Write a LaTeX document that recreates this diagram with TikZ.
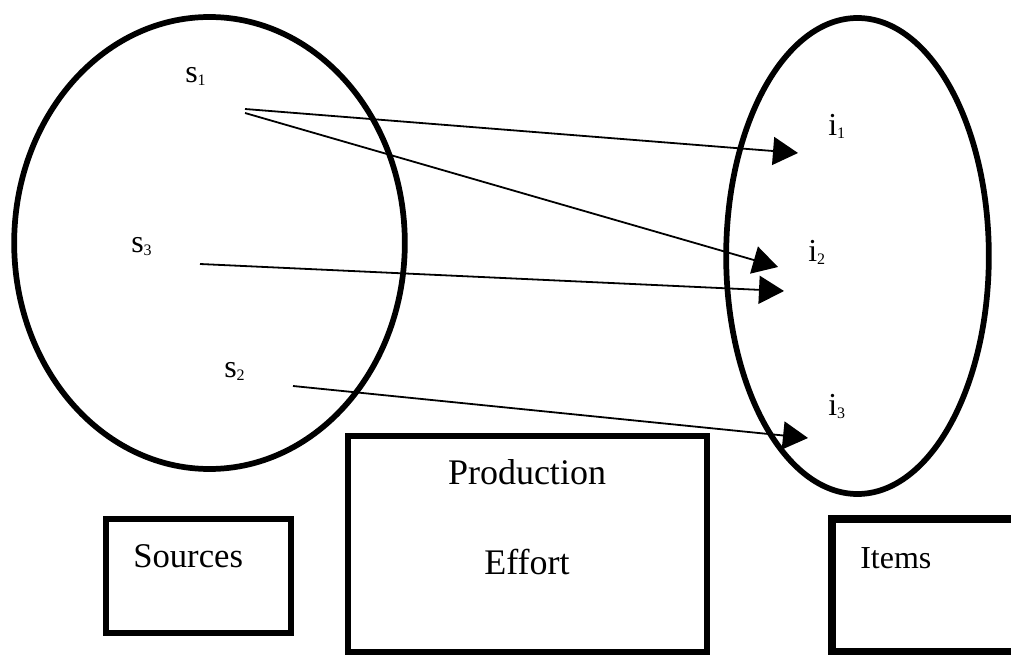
\documentclass[tikz,border=0pt]{standalone}
\usepackage{fontspec}
\setmainfont{Liberation Serif}
\usetikzlibrary{arrows.meta,shapes.geometric}
\newcommand{\setlbl}[2]{#1\raisebox{-2.2pt}{\fontsize{12}{12}\selectfont #2}}

\begin{document}
\begin{tikzpicture}[x=0.75pt,y=0.75pt,yscale=-1,xscale=1,
  setoval/.style={draw, ellipse, line width=4.3pt, inner sep=0pt, outer sep=0pt},
  flow/.style={line width=1.35pt, -{Triangle[length=18.75pt,width=21pt]}},
  lbl/.style={anchor=base west, inner sep=0pt, font=\fontsize{24}{28}\selectfont},
  boxtext/.style={anchor=base, inner sep=0pt, font=\fontsize{27}{32}\selectfont},
  frame/.style={draw, inner sep=0pt, outer sep=0pt}]
\useasboundingbox (0,0) rectangle (1011,655);

%Ellipses
\node[setoval, minimum width=293pt, minimum height=339pt] (srcset) at (209.5,243) {};
\node[setoval, minimum width=197pt, minimum height=357pt] (itemset) at (857.5,256) {};

% Text Node
\node[lbl] (s1) at (185,83) {\setlbl{s}{1}};
\node[lbl] (s3) at (131,253) {\setlbl{s}{3}};
\node[lbl] (s2) at (224,378) {\setlbl{s}{2}};
\node[lbl] (i1) at (828,136) {\setlbl{i}{1}};
\node[lbl] (i2) at (808,262) {\setlbl{i}{2}};
\node[lbl] (i3) at (828,416) {\setlbl{i}{3}};

%Straight Lines
\coordinate (s1a) at (245,109);
\coordinate (s1b) at (245,113);
\coordinate (s3a) at (200,264);
\coordinate (s2a) at (293,386);
\coordinate (i1a) at (798,153);
\coordinate (i2a) at (778,267);
\coordinate (i2b) at (784,291);
\coordinate (i3a) at (808,438);
\draw[flow] (s1a) -- (i1a);
\draw[flow] (s1b) -- (i2a);
\draw[flow] (s3a) -- (i2b);
\draw[flow] (s2a) -- (i3a);

%Shape: Rectangle
\node[frame, line width=4.5pt, minimum width=138.75pt, minimum height=85.5pt] (srcbox) at (198.5,576) {};
\node[frame, line width=4.5pt, minimum width=269.25pt, minimum height=162pt] (prodbox) at (527.5,544) {};
\node[frame, line width=6pt, minimum width=163.5pt, minimum height=99.75pt] (itembox) at (941,585.5) {};

% Text Node
\node[boxtext, anchor=base west, font=\fontsize{26}{30}\selectfont] (srctxt) at (133,568) {Sources};
\node[boxtext] (prodtxt) at (527,485) {Production};
\node[boxtext] (efftxt) at (527,575) {Effort};
\node[boxtext, anchor=base west, font=\fontsize{24}{28}\selectfont] (itemtxt) at (860,569) {Items};

\end{tikzpicture}
\end{document}
